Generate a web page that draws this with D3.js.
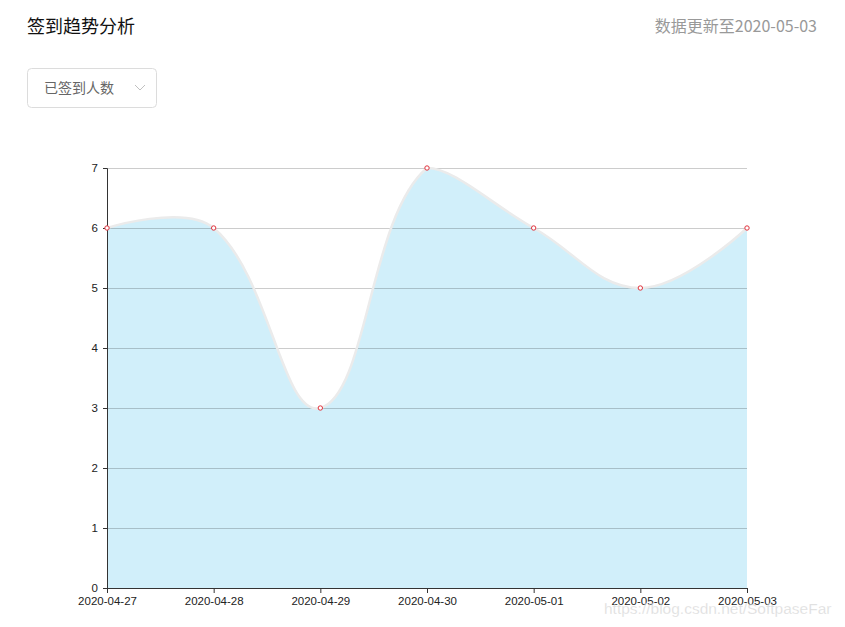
<!DOCTYPE html>
<html><head><meta charset="utf-8">
<script src="https://cdn.jsdelivr.net/npm/d3@7"></script>
<style>
body{margin:0;background:#fff;}
svg{display:block;font-family:"Liberation Sans",Arial,sans-serif;}
.cjk{font-family:"Noto Sans CJK SC","Noto Sans",sans-serif;}
</style></head>
<body>
<svg id="chart" width="845" height="627"></svg>
<script>
const categories = ["2020-04-27","2020-04-28","2020-04-29","2020-04-30","2020-05-01","2020-05-02","2020-05-03"];
const values = [6, 6, 3, 7, 6, 5, 6];
const yTicks = [0, 1, 2, 3, 4, 5, 6, 7];
const titleText = "签到趋势分析";
const updateText = "数据更新至2020-05-03";
const selectText = "已签到人数";
const watermark = "https://blog.csdn.net/SoftpaseFar";

const svg = d3.select("#chart");
const margin = {left:107, right:98, top:168, bottom:39};
const W = 845, H = 627;
const x = d3.scalePoint().domain(categories).range([margin.left, W - margin.right]);
const y = d3.scaleLinear().domain([0, 7]).range([H - margin.bottom, margin.top]);

// header
svg.append("text").attr("class","cjk").attr("x",27).attr("y",33).attr("font-size",18).attr("fill","#111").text(titleText);
svg.append("text").attr("class","cjk").attr("x",817).attr("y",32).attr("text-anchor","end").attr("font-size",16).attr("fill","#999").text(updateText);
svg.append("rect").attr("x",27.5).attr("y",68.5).attr("width",129).attr("height",39).attr("rx",4).attr("fill","#fff").attr("stroke","#dcdcdc");
svg.append("text").attr("class","cjk").attr("x",44).attr("y",93).attr("font-size",14).attr("fill","#666").text(selectText);
svg.append("path").attr("d","M135,85 L140,90 L145,85").attr("fill","none").attr("stroke","#c0c0c0").attr("stroke-width",1);

// smooth path (catmull-rom to bezier with bbox constraint)
const pts = categories.map((c,i)=>[x(c), y(values[i])]);
const minC = [margin.left, margin.top], maxC = [W - margin.right, H - margin.bottom];
function controlPoints(points, smooth){
  const cps = [];
  for (let i=0;i<points.length;i++){
    const p = points[i];
    if (i===0 || i===points.length-1){ cps.push(p); continue; }
    const pr = points[i-1], nx = points[i+1];
    const v = [(nx[0]-pr[0])*smooth, (nx[1]-pr[1])*smooth];
    let d0 = Math.hypot(p[0]-pr[0], p[1]-pr[1]);
    let d1 = Math.hypot(p[0]-nx[0], p[1]-nx[1]);
    const s = d0+d1; if (s){ d0/=s; d1/=s; }
    const c0 = [p[0]-v[0]*d0, p[1]-v[1]*d0];
    const c1 = [p[0]+v[0]*d1, p[1]+v[1]*d1];
    [c0,c1].forEach(c=>{ for(let k=0;k<2;k++){ c[k]=Math.max(minC[k], Math.min(maxC[k], c[k])); } });
    cps.push(c0); cps.push(c1);
  }
  return cps;
}
const cps = controlPoints(pts, 0.4);
function smoothPath(p){
  p.moveTo(pts[0][0], pts[0][1]);
  for (let i=0;i<pts.length-1;i++){
    const a = cps[2*i], b = cps[2*i+1], e = pts[i+1];
    p.bezierCurveTo(a[0],a[1],b[0],b[1],e[0],e[1]);
  }
  return p;
}
const areaP = smoothPath(d3.path());
areaP.lineTo(pts[pts.length-1][0], y(0));
areaP.lineTo(pts[0][0], y(0));
areaP.closePath();
svg.append("path").attr("d", areaP.toString()).attr("fill","#d1effa");

// grid
svg.append("g").selectAll("line").data(yTicks.filter(d=>d>0)).join("line")
  .attr("x1",margin.left).attr("x2",W-margin.right)
  .attr("y1",d=>y(d)+0.5).attr("y2",d=>y(d)+0.5)
  .attr("stroke","rgba(0,0,0,0.2)").attr("stroke-width",1);

// line
svg.append("path").attr("d", smoothPath(d3.path()).toString()).attr("fill","none")
  .attr("stroke","#ebebeb").attr("stroke-width",2.5);

// axes
const yAxis = svg.append("g").attr("transform",`translate(${margin.left},0)`)
  .call(d3.axisLeft(y).tickValues(yTicks).tickSize(4).tickPadding(5).tickFormat(d3.format("d")));
yAxis.selectAll("text").attr("font-size",11.5).attr("fill","#222").attr("font-family","Liberation Sans, Arial");
yAxis.select(".domain").attr("stroke","#333");
yAxis.selectAll(".tick line").attr("stroke","#333");

const xAxis = svg.append("g").attr("transform",`translate(0,${y(0)})`)
  .call(d3.axisBottom(x).tickSize(5).tickPadding(3.5));
xAxis.selectAll("text").attr("font-size",11.5).attr("fill","#222").attr("font-family","Liberation Sans, Arial");
xAxis.select(".domain").attr("stroke","#333");
xAxis.selectAll(".tick line").attr("stroke","#333");

// points
svg.append("g").selectAll("circle").data(categories).join("circle")
  .attr("cx",d=>x(d)).attr("cy",(d,i)=>y(values[i])).attr("r",2.2)
  .attr("fill","#fff").attr("stroke","#e0323c").attr("stroke-width",1);

// watermark
svg.append("text").attr("x",604).attr("y",614).attr("font-size",15.5)
  .attr("fill","rgba(190,190,190,0.55)").attr("stroke","rgba(255,255,255,0.5)").attr("stroke-width",0.5)
  .attr("font-family","Liberation Sans, Arial").text(watermark);
</script>
</body></html>
